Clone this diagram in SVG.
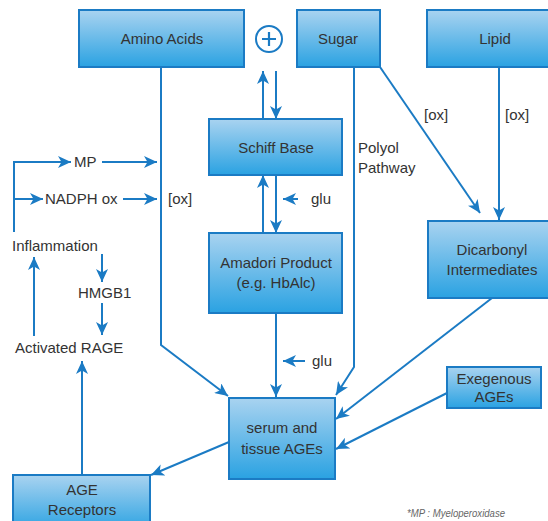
<svg xmlns="http://www.w3.org/2000/svg" width="548" height="521" viewBox="0 0 548 521">
<defs>
<linearGradient id="g" x1="0" y1="0" x2="0" y2="1">
<stop offset="0" stop-color="#a9d3f0"/>
<stop offset="1" stop-color="#2aa2e2"/>
</linearGradient>
<marker id="a" markerUnits="userSpaceOnUse" markerWidth="14" markerHeight="12" refX="13" refY="6" orient="auto">
<path d="M0,0 L13,6 L0,12 L3.5,6 z" fill="#1b7bc4"/>
</marker>
</defs>
<style>
.box{fill:url(#g);stroke:#1b7bc4;stroke-width:2}
.t{font-family:"Liberation Sans",Arial,sans-serif;font-size:15px;fill:#333;text-anchor:middle}
.l{font-family:"Liberation Sans",Arial,sans-serif;font-size:15px;fill:#333}
.c{fill:none;stroke:#1b7bc4;stroke-width:2}
.ar{marker-end:url(#a)}
.fn{font-family:"Liberation Sans",Arial,sans-serif;font-size:10px;font-style:italic;fill:#666}
</style>
<rect width="548" height="521" fill="#fff"/>
<g id="connectors">
<polyline class="c ar" points="161,67 161,345 228,396"/>
<polyline class="c ar" points="354,67 354,367 336,395"/>
<line class="c ar" x1="380" y1="67" x2="480" y2="213"/>
<line class="c ar" x1="499" y1="67" x2="499" y2="220"/>
<line class="c ar" x1="263" y1="119" x2="263" y2="71"/>
<line class="c ar" x1="276" y1="71" x2="276" y2="119"/>
<line class="c ar" x1="263" y1="233" x2="263" y2="175"/>
<line class="c ar" x1="276" y1="175" x2="276" y2="233"/>
<line class="c ar" x1="298" y1="199" x2="283" y2="199"/>
<line class="c ar" x1="276" y1="313" x2="276" y2="397"/>
<line class="c ar" x1="305" y1="361" x2="283" y2="361"/>
<line class="c ar" x1="492" y1="298" x2="336" y2="419"/>
<line class="c ar" x1="447" y1="393" x2="336" y2="449"/>
<line class="c ar" x1="229" y1="442" x2="151" y2="475"/>
<line class="c ar" x1="82" y1="475" x2="82" y2="361"/>
<polyline class="c" points="14,232 14,162 70,162"/>
<line class="c ar" x1="14" y1="162" x2="71" y2="162"/>
<line class="c ar" x1="14" y1="199" x2="43" y2="199"/>
<line class="c ar" x1="102" y1="162" x2="157" y2="162"/>
<line class="c ar" x1="123" y1="199" x2="157" y2="199"/>
<line class="c ar" x1="102" y1="254" x2="102" y2="282"/>
<line class="c ar" x1="102" y1="303" x2="102" y2="335"/>
<line class="c ar" x1="34" y1="336" x2="34" y2="257"/>
</g>
<g id="amino-acids"><rect class="box" x="79" y="10" width="165" height="57"/><text class="t" x="162" y="44">Amino Acids</text></g>
<g id="plus"><circle cx="269" cy="39" r="13" fill="#fff" stroke="#1b7bc4" stroke-width="2"/><path d="M262,39 H276 M269,32 V46" stroke="#1b7bc4" stroke-width="2.2"/></g>
<g id="sugar"><rect class="box" x="297" y="10" width="83" height="57"/><text class="t" x="338" y="44">Sugar</text></g>
<g id="lipid"><rect class="box" x="427" y="10" width="136" height="57"/><text class="t" x="495" y="44">Lipid</text></g>
<g id="schiff-base"><rect class="box" x="209" y="119" width="133" height="56"/><text class="t" x="276" y="153">Schiff Base</text></g>
<g id="amadori"><rect class="box" x="209" y="233" width="133" height="80"/><text class="t" x="276" y="268">Amadori Product</text><text class="t" x="276" y="288">(e.g. HbAlc)</text></g>
<g id="dicarbonyl"><rect class="box" x="428" y="221" width="128" height="77"/><text class="t" x="492" y="255">Dicarbonyl</text><text class="t" x="492" y="275">Intermediates</text></g>
<g id="serum"><rect class="box" x="229" y="398" width="106" height="81"/><text class="t" x="282" y="433">serum and</text><text class="t" x="282" y="454">tissue AGEs</text></g>
<g id="exegenous"><rect class="box" x="447" y="367" width="94" height="41"/><text class="t" x="494" y="384">Exegenous</text><text class="t" x="494" y="402">AGEs</text></g>
<g id="age-receptors"><rect class="box" x="13" y="475" width="137" height="56"/><text class="t" x="82" y="495">AGE</text><text class="t" x="82" y="515">Receptors</text></g>
<g id="labels">
<text class="l" x="74" y="167">MP</text>
<text class="l" x="45" y="204">NADPH ox</text>
<text class="l" x="168" y="204">[ox]</text>
<text class="l" x="12" y="251">Inflammation</text>
<text class="l" x="78" y="298">HMGB1</text>
<text class="l" x="15" y="353">Activated RAGE</text>
<text class="l" x="311" y="204">glu</text>
<text class="l" x="312" y="366">glu</text>
<text class="l" x="358" y="153">Polyol</text>
<text class="l" x="358" y="173">Pathway</text>
<text class="l" x="424" y="120">[ox]</text>
<text class="l" x="505" y="120">[ox]</text>
<text class="fn" x="407" y="517" textLength="98" lengthAdjust="spacingAndGlyphs">*MP : Myeloperoxidase</text>
</g>
</svg>
